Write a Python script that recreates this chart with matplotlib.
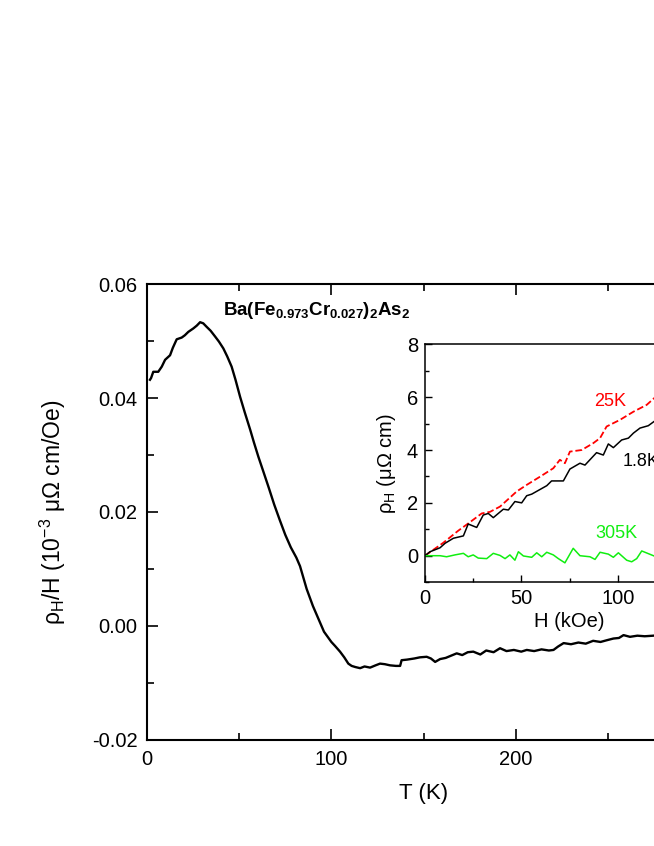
import numpy as np
import matplotlib
matplotlib.use("Agg")
import matplotlib.pyplot as plt
from matplotlib.ticker import MultipleLocator

plt.rcParams['font.family'] = ['Liberation Sans', 'DejaVu Sans']
plt.rcParams['mathtext.fontset'] = 'custom'
plt.rcParams['mathtext.rm'] = 'Liberation Sans'
plt.rcParams['mathtext.it'] = 'Liberation Sans'
plt.rcParams['mathtext.bf'] = 'Liberation Sans:bold'

# main panel: rho_H/H vs T
T = [1.6, 2.2, 3.4, 6.1, 8, 9.8, 12.5, 14, 16.1, 18.8, 20.5, 22.4, 25.1, 27,
     28.8, 30.5, 32.3, 34.5, 36.9, 39, 41.4, 43.5, 45.9, 48, 50.5, 53, 56, 58,
     60.4, 63, 66, 69, 72, 75, 78, 81, 83, 86.6, 90, 94, 96, 100, 102, 104.7,
     107, 109.2, 111, 113, 115.6, 118, 121, 124, 126.4, 129, 131.8, 135, 137.3,
     138.1, 141, 145, 148, 151.7, 154, 156.3, 159, 162, 165, 168, 171, 174, 177,
     180.8, 184, 188, 191.5, 195, 199, 203, 206, 210, 214, 218, 220.5, 223, 226,
     230, 234, 238, 242, 246, 249.4, 253, 256, 258.5, 262, 266, 270, 274.6, 280,
     290, 300]
rho_T = [0.0432, 0.0435, 0.0446, 0.0446, 0.0455, 0.0467, 0.0475, 0.0488, 0.0503,
         0.0506, 0.0510, 0.0516, 0.0522, 0.0527, 0.0533, 0.0531, 0.0525, 0.0518,
         0.0508, 0.0499, 0.0487, 0.0473, 0.0455, 0.0432, 0.0402, 0.0375, 0.0344,
         0.0322, 0.0297, 0.0272, 0.0243, 0.0213, 0.0186, 0.0160, 0.0138, 0.0120,
         0.0105, 0.0065, 0.0035, 0.0005, -0.0010, -0.0028, -0.0035, -0.0045,
         -0.0055, -0.0066, -0.0070, -0.0072, -0.0074, -0.0071, -0.0073, -0.0069,
         -0.0066, -0.0067, -0.0069, -0.0070, -0.0070, -0.0060, -0.0059, -0.0057,
         -0.0055, -0.0054, -0.0057, -0.0063, -0.0058, -0.0056, -0.0052, -0.0048,
         -0.0051, -0.0046, -0.0045, -0.0050, -0.0043, -0.0046, -0.0039, -0.0044,
         -0.0042, -0.0045, -0.0042, -0.0044, -0.0041, -0.0043, -0.0042, -0.0036,
         -0.0030, -0.0032, -0.0029, -0.0031, -0.0026, -0.0028, -0.0025, -0.0022,
         -0.0021, -0.0016, -0.0019, -0.0017, -0.0018, -0.0017, -0.0015, -0.0013,
         -0.0011]

# inset: rho_H vs H
H_18 = [0, 2.6, 7.8, 10.4, 14.7, 19.9, 22.4, 26.8, 30.2, 32.8, 35.4, 40.6, 43.2,
        46.6, 50.1, 52.7, 55.3, 63.1, 65.6, 71.7, 75.1, 80.3, 82.9, 88.9, 92.4,
        95.0, 97.6, 101.9, 105.4, 108.0, 111.4, 115.7, 118.7, 125, 132, 140]
rho_18 = [0, 0.15, 0.30, 0.47, 0.66, 0.75, 1.20, 1.07, 1.54, 1.60, 1.44, 1.76,
          1.73, 2.05, 2.00, 2.27, 2.33, 2.65, 2.83, 2.83, 3.28, 3.50, 3.43, 3.90,
          3.81, 4.23, 4.09, 4.38, 4.45, 4.64, 4.83, 4.92, 5.08, 5.30, 5.65, 5.95]

H_25 = [0, 9.5, 17.3, 22.4, 29.4, 33.7, 38.9, 47.5, 52.7, 59.6, 66.5, 69.9,
        72.5, 75.1, 81.2, 87.2, 90.7, 94.1, 101.0, 108.0, 114.9, 118.7, 125,
        132, 140]
rho_25 = [0, 0.49, 0.95, 1.22, 1.60, 1.66, 1.86, 2.43, 2.68, 2.99, 3.31, 3.63,
          3.50, 3.94, 4.00, 4.26, 4.45, 4.89, 5.14, 5.45, 5.71, 5.96, 6.25,
          6.55, 6.95]

H_305 = [0, 7.8, 11.2, 15.5, 19.9, 22.4, 25.0, 27.6, 32.0, 35.4, 38.9, 41.5,
         44.0, 46.6, 48.4, 51.0, 55.3, 57.9, 60.5, 63.1, 66.5, 69.1, 72.5, 76.8,
         80.3, 85.5, 88.1, 90.7, 95.0, 97.6, 100.2, 104.5, 107.1, 109.7, 112.3,
         118.7, 125, 132, 140]
rho_305 = [0, 0.0, -0.04, 0.03, 0.09, -0.04, 0.03, -0.09, -0.11, 0.09, 0.01,
           -0.11, 0.03, -0.17, 0.15, -0.01, -0.06, 0.11, -0.04, 0.13, 0.03,
           -0.11, -0.27, 0.28, 0.0, -0.04, -0.14, 0.13, 0.06, -0.06, 0.11,
           -0.17, -0.23, -0.11, 0.18, -0.01, 0.05, -0.08, 0.04]

fig = plt.figure(figsize=(6.54, 8.46), dpi=100)
ax = fig.add_axes([0.2248, 0.1253, 0.8456, 0.5390])
ax.plot(T, rho_T, color='black', lw=1.7)
ax.set_xlim(0, 300)
ax.set_ylim(-0.02, 0.06)
ax.xaxis.set_major_locator(MultipleLocator(100))
ax.xaxis.set_minor_locator(MultipleLocator(50))
ax.yaxis.set_major_locator(MultipleLocator(0.02))
ax.yaxis.set_minor_locator(MultipleLocator(0.01))
ax.yaxis.set_major_formatter(plt.FormatStrFormatter('%.2f'))
ax.tick_params(which='both', direction='in', top=True, right=True, width=1.2,
               labelsize=14.5, pad=7)
ax.tick_params(which='major', length=8)
ax.tick_params(which='minor', length=5)
for s in ax.spines.values():
    s.set_linewidth(1.5)
ax.set_xlabel('T (K)', fontsize=16, labelpad=10)
ax.set_ylabel(r'$\rho_{\rm H}$/H (10$^{-3}$ $\mu\Omega$ cm/Oe)', fontsize=16.5,
              labelpad=17)
ax.text(41, 0.0554, r'$\mathbf{Ba(Fe_{0.973}Cr_{0.027})_2As_2}$', fontsize=13.5,
        va='center', ha='left')

ins = fig.add_axes([0.6498, 0.3119, 0.4427, 0.2811])
ins.plot(H_25, rho_25, color='red', ls='--', lw=1.3)
ins.plot(H_18, rho_18, color='black', lw=1.1)
ins.plot(H_305, rho_305, color='#10ee10', lw=1.1)
ins.set_xlim(0, 150)
ins.set_ylim(-1, 8)
ins.xaxis.set_major_locator(MultipleLocator(50))
ins.xaxis.set_minor_locator(MultipleLocator(25))
ins.yaxis.set_major_locator(MultipleLocator(2))
ins.yaxis.set_minor_locator(MultipleLocator(1))
ins.tick_params(which='both', direction='in', width=1.0, labelsize=14.5, pad=5)
ins.tick_params(which='major', length=5)
ins.tick_params(which='minor', length=3)
for s in ins.spines.values():
    s.set_linewidth(1.1)
ins.set_xlabel('H (kOe)', fontsize=14.5, labelpad=3)
ins.set_ylabel(r'$\rho_{\rm H}$ ($\mu\Omega$ cm)', fontsize=14.5, labelpad=6)
ins.text(96, 5.83, '25K', color='red', fontsize=13, ha='center', va='center')
ins.text(102.4, 3.56, '1.8K', color='black', fontsize=13, ha='left', va='center')
ins.text(99.3, 0.85, '305K', color='#10ee10', fontsize=13, ha='center',
         va='center')

fig.savefig('out.png', dpi=100)
